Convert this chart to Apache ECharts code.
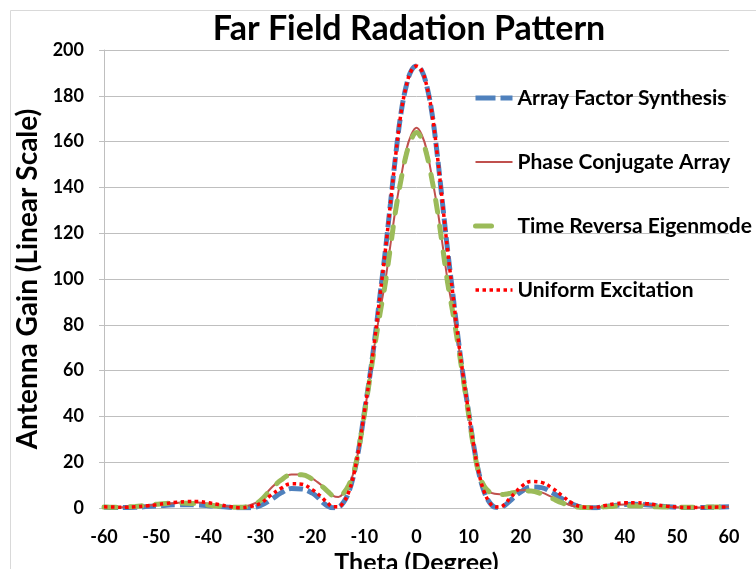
<!DOCTYPE html>
<html>
<head>
<meta charset="utf-8">
<script src="https://cdn.jsdelivr.net/npm/echarts@6/dist/echarts.min.js"></script>
<style>html,body{margin:0;padding:0;background:#fff;}#c{width:756px;height:569px;}</style>
</head>
<body>
<div id="c"></div>
<script>
const theta = [-60,-58,-56,-54,-52,-50,-48,-46,-44,-42,-40,-38,-36,-34,-32,-30,-28,-26,-24,-22,-20,
  -19,-18,-17,-16,-15,-14,-13,-12,-11,-10,-9,-8,-7,-6,-5,-4,-3,-2,-1,0,1,2,3,4,5,6,7,8,9,10,11,12,13,14,15,16,17,18,19,
  20,22,24,26,28,30,32,34,36,38,40,42,44,46,48,50,52,54,56,58,60];

const arrayFactor = [0.3,0.2,0.2,0.3,0.6,0.9,1.2,1.4,1.4,1.3,1.0,0.6,0.3,0.1,0.1,1.0,3.5,6.6,8.5,8.3,6.5,
  4.8,2.5,0.8,0.1,0.4,2.5,7,15,27,42,57,74,93,112,133,154,172,184,191,193,191,184,172,154,133,112,93,74,57,42,27,15,7,2.5,0.4,0.2,1.2,3.2,5.3,
  7.0,9.2,8.9,6.8,4.0,1.6,0.3,0.1,0.6,1.1,1.5,1.6,1.4,1.0,0.6,0.3,0.2,0.2,0.3,0.4,0.5];

const phaseConjugate = [0.4,0.3,0.4,0.6,1.0,1.4,1.8,2.2,2.4,2.4,2.0,1.3,0.6,0.4,1.2,3.5,8.5,12.5,14.6,14.6,12.8,
  11.3,9.5,7.5,5.3,4.8,6.5,10,16,27,41,57,72,86,99,115,131,144,156,163,166,163,156,144,131,115,99,86,72,57,41,26,15,9.5,7,6.2,6.0,6.2,6.6,7.2,
  7.7,7.9,6.8,4.8,2.6,0.9,0.2,0.3,0.7,1.2,1.5,1.6,1.4,1.0,0.6,0.3,0.2,0.2,0.3,0.4,0.5];

const timeReversal = [0.4,0.3,0.4,0.7,1.1,1.6,2.0,2.2,2.1,1.8,1.3,0.8,0.4,0.3,1.0,3.2,8.0,12.2,14.5,14.5,12.6,
  11.0,9.2,7.2,5.2,4.8,6.5,10,16,27,41,56,71,85,98,114,130,143,154,161,164,161,154,143,130,114,98,85,71,56,41,26,15,9.5,7,6.0,5.8,6.0,6.4,6.9,
  7.3,7.4,6.2,4.2,2.2,0.8,0.2,0.3,0.5,0.8,1.0,1.0,0.8,0.5,0.4,0.3,0.3,0.3,0.4,0.4,0.5];

const uniform = [0.5,0.4,0.3,0.5,0.9,1.4,2.0,2.5,2.8,2.8,2.3,1.5,0.7,0.1,0.6,2.0,5.5,8.6,10.6,10.4,8.0,
  6.3,4.2,2.0,0.5,0.5,2.5,7,15,27,42,57,74,93,112,133,154,172,184,191,193,191,184,172,154,133,112,93,74,57,42,27,15,7,2.5,0.5,0.4,1.8,4.5,6.8,
  9.2,11.6,11.2,8.8,5.3,2.0,0.4,0.2,1.0,1.8,2.3,2.3,2.0,1.4,0.8,0.4,0.2,0.2,0.3,0.4,0.5];

const seriesNames = ['Array Factor Synthesis','Phase Conjugate Array','Time Reversa Eigenmode','Uniform Excitation'];
const colors = ['#4F81BD', '#C0504D', '#9BBB59', '#FF0000'];
const widths = [5, 2, 5, 3.5];
const dashes = [[14, 5], 'solid', [12, 14], [3.5, 3.5]];
const caps = ['butt', 'butt', 'round', 'butt'];
const legendDashes = [[20, 5], 'solid', [16, 60], [3.5, 3.5]];

function pairs(vals){ return theta.map((t,i)=>[t, vals[i]]); }
const allValues = [arrayFactor, phaseConjugate, timeReversal, uniform];

const FONT = 'Lato, "Open Sans", sans-serif';
const chart = echarts.init(document.getElementById('c'), null, {renderer:'canvas'});
chart.setOption({
  animation: false,
  backgroundColor: '#ffffff',
  graphic: [{
    type: 'rect', left: 8, top: 8, shape: {x:0, y:0, width: 800, height: 600},
    style: {fill: 'none', stroke: '#d9d9d9', lineWidth: 1}, silent: true, z: -1
  }],
  title: {
    text: 'Far Field Radation Pattern',
    left: 404, top: 7, textAlign: 'center',
    textStyle: {fontFamily: FONT, fontWeight: 'bold', fontSize: 34, color: '#000'}
  },
  legend: {
    orient: 'vertical', left: 473, top: 86, padding: 0,
    itemWidth: 37, itemHeight: 14, itemGap: 40,
    itemStyle: {opacity: 0},
    data: seriesNames.map((n, i) => ({
      name: n,
      lineStyle: {color: colors[i], width: widths[i], type: legendDashes[i], cap: caps[i]}
    })),
    textStyle: {fontFamily: FONT, fontWeight: 'bold', fontSize: 21, color: '#000', lineHeight: 24}
  },
  grid: {left: 104, right: 27, top: 50, bottom: 61, containLabel: false, outerBoundsMode: 'none'},
  xAxis: {
    type: 'value', min: -60, max: 60, interval: 10,
    name: 'Theta (Degree)', nameLocation: 'middle', nameGap: 34,
    nameTextStyle: {fontFamily: FONT, fontWeight: 'bold', fontSize: 25, color: '#000', verticalAlign: 'top'},
    axisLine: {show: true, onZero: false, lineStyle: {color: '#bfbfbf', width: 1}},
    axisTick: {show: false},
    splitLine: {show: false},
    axisLabel: {fontFamily: FONT, fontWeight: 'bold', fontSize: 18, color: '#000', margin: 20}
  },
  yAxis: {
    type: 'value', min: 0, max: 200, interval: 20,
    name: 'Antenna Gain (Linear Scale)', nameLocation: 'middle', nameGap: 58,
    nameTextStyle: {fontFamily: FONT, fontWeight: 'bold', fontSize: 28, color: '#000'},
    axisLine: {show: true, onZero: false, lineStyle: {color: '#bfbfbf', width: 1}},
    axisTick: {show: true, length: 5, lineStyle: {color: '#bfbfbf'}},
    splitLine: {show: true, lineStyle: {color: '#bfbfbf', width: 1}},
    axisLabel: {fontFamily: FONT, fontWeight: 'bold', fontSize: 18, color: '#000', margin: 20}
  },
  series: seriesNames.map((n, i) => ({
    name: n, type: 'line', data: pairs(allValues[i]), smooth: 0.4, symbol: 'none', z: 2 + i,
    lineStyle: {color: colors[i], width: widths[i], type: dashes[i], cap: caps[i]},
    itemStyle: {color: colors[i]}
  }))
});
</script>
</body>
</html>
